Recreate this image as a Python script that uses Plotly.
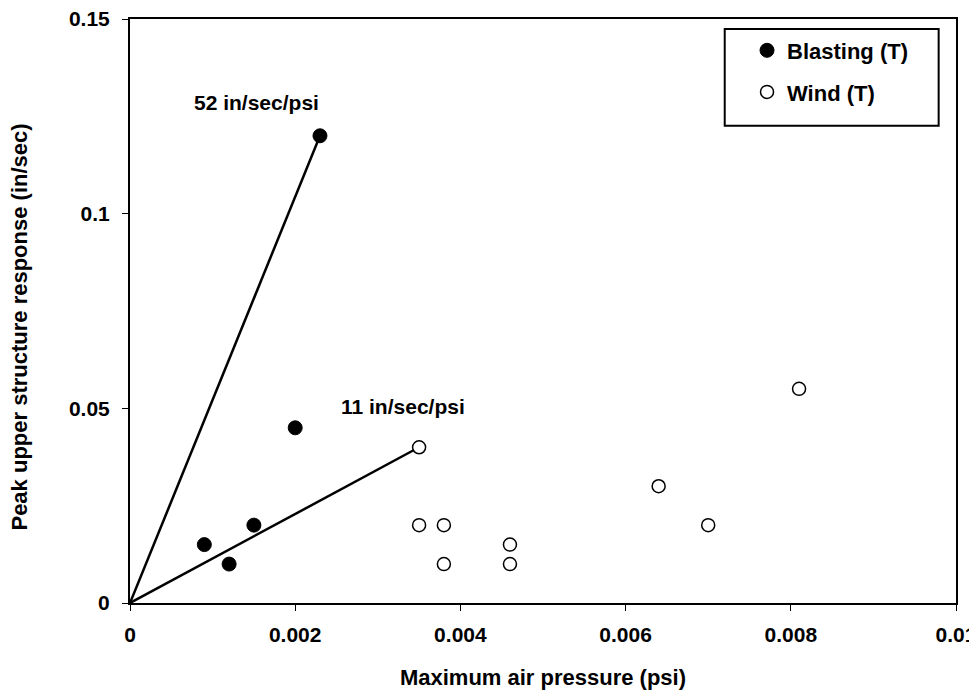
import plotly.graph_objects as go

# Blasting (T) points
blast_x = [0.0009, 0.0012, 0.0015, 0.0020, 0.0023]
blast_y = [0.015, 0.010, 0.020, 0.045, 0.120]

# Wind (T) points
wind_x = [0.0035, 0.0035, 0.0038, 0.0038, 0.0046, 0.0046, 0.0064, 0.0070, 0.0081]
wind_y = [0.040, 0.020, 0.020, 0.010, 0.015, 0.010, 0.030, 0.020, 0.055]

# fitted slope lines (from origin)
line52_x = [0, 0.0023]
line52_y = [0, 0.120]
line11_x = [0, 0.0035]
line11_y = [0, 0.040]

FAM = "Liberation Sans, Arial"
fnt = dict(family=FAM, size=21, color="black")

fig = go.Figure()

for lx, ly in [(line52_x, line52_y), (line11_x, line11_y)]:
    fig.add_trace(go.Scatter(x=lx, y=ly, mode="lines",
                             line=dict(color="black", width=2.5),
                             showlegend=False, hoverinfo="skip"))

fig.add_trace(go.Scatter(
    x=blast_x, y=blast_y, mode="markers", name="<b>Blasting (T)</b>",
    legendgroup="b",
    marker=dict(symbol="circle", size=14, color="black",
                line=dict(color="black", width=1))))

fig.add_trace(go.Scatter(
    x=wind_x, y=wind_y, mode="markers", name="<b>Wind (T)</b>",
    legendgroup="w",
    marker=dict(symbol="circle", size=13, color="white",
                line=dict(color="black", width=1.5))))

fig.add_annotation(x=0.00153, y=0.1285, text="<b>52 in/sec/psi</b>",
                   showarrow=False, font=fnt)
fig.add_annotation(x=0.00331, y=0.0505, text="<b>11 in/sec/psi</b>",
                   showarrow=False, font=fnt)

# y axis title (placed a bit below the plot centre, as in the original)
fig.add_annotation(xref="paper", yref="paper", x=-0.151, y=0.473,
                   text="<b>Peak upper structure response (in/sec)</b>",
                   textangle=-90, showarrow=False,
                   font=dict(family=FAM, size=22, color="black"))

# legend frame
fig.add_shape(type="rect", xref="paper", yref="paper",
              x0=0.720, x1=0.979, y0=0.817, y1=0.983,
              line=dict(color="black", width=2))

# page body adds an 8px offset, so the figure is sized to fit the window
fig.update_layout(
    width=969, height=690,
    margin=dict(l=122, r=21, t=11, b=95, autoexpand=False),
    plot_bgcolor="white", paper_bgcolor="white",
    font=fnt,
    legend=dict(x=0.747, y=0.982, xanchor="left", yanchor="top",
                borderwidth=0, bgcolor="rgba(0,0,0,0)",
                tracegroupgap=10,
                font=dict(family=FAM, size=22, color="black")),
)

fig.update_xaxes(range=[0, 0.01], dtick=0.002, tick0=0,
                 showgrid=False, zeroline=False,
                 showline=True, linecolor="black", linewidth=2, mirror=True,
                 ticks="outside", ticklen=6, tickcolor="black", tickwidth=1,
                 tickformat="~g", automargin=False, ticklabelstandoff=6,
                 ticklabeloverflow="allow",
                 tickfont=dict(family=FAM, size=21, color="black"),
                 tickprefix="<b>", ticksuffix="</b>",
                 title=dict(text="<b>Maximum air pressure (psi)</b>", standoff=24,
                            font=dict(family=FAM, size=22)))

fig.update_yaxes(range=[0, 0.15], dtick=0.05, tick0=0,
                 showgrid=False, zeroline=False,
                 showline=True, linecolor="black", linewidth=2, mirror=True,
                 ticks="outside", ticklen=6, tickcolor="black", tickwidth=1,
                 tickformat="~g", automargin=False, ticklabelstandoff=8,
                 ticklabeloverflow="allow",
                 tickfont=dict(family=FAM, size=21, color="black"),
                 tickprefix="<b>", ticksuffix="</b>")

fig.write_html("out.html")
